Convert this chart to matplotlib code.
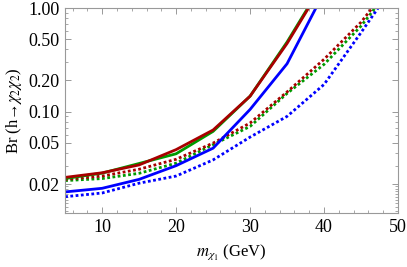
import matplotlib
matplotlib.use("Agg")
import matplotlib.pyplot as plt
from matplotlib.ticker import FixedLocator, NullFormatter, MultipleLocator

plt.rcParams['font.family'] = ['Liberation Serif', 'DejaVu Serif']
plt.rcParams['mathtext.fontset'] = 'stix'

# Data
x_solid_red = [5, 10, 15, 20, 25, 30, 35, 37.9]
y_solid_red = [0.0232, 0.0257, 0.0306, 0.0430, 0.0665, 0.141, 0.455, 1.0]
x_solid_green = [5, 10, 15, 20, 25, 30, 35, 37.8]
y_solid_green = [0.0226, 0.0255, 0.0316, 0.0392, 0.0645, 0.141, 0.470, 1.0]
x_solid_blue = [5, 10, 15, 20, 25, 30, 35, 38.9]
y_solid_blue = [0.0168, 0.0182, 0.0222, 0.0301, 0.0444, 0.105, 0.290, 1.0]

x_dot_red = [5, 10, 15, 20, 25, 30, 35, 40, 45, 46.5]
y_dot_red = [0.0222, 0.0239, 0.0278, 0.0347, 0.0497, 0.0777, 0.155, 0.320, 0.73, 1.0]
x_dot_green = [5, 10, 15, 20, 25, 30, 35, 40, 45, 46.9]
y_dot_green = [0.0216, 0.0226, 0.0254, 0.0318, 0.0480, 0.0720, 0.150, 0.286, 0.67, 1.0]
x_dot_blue = [5, 10, 15, 20, 25, 30, 35, 40, 45, 47.3]
y_dot_blue = [0.0151, 0.0164, 0.0204, 0.0239, 0.0342, 0.0568, 0.090, 0.183, 0.58, 1.0]

y_ticks = [0.02, 0.05, 0.10, 0.20, 0.50, 1.00]
y_tick_labels = ["0.02", "0.05", "0.10", "0.20", "0.50", "1.00"]
x_ticks = [10, 20, 30, 40, 50]

RED = '#a80000'
GREEN = '#009a00'
BLUE = '#0000ff'

fig = plt.figure(figsize=(4.07, 2.67), dpi=100)
ax = fig.add_axes([0.16, 0.202, 0.818, 0.768])

lw = 2.0
dot = (0, (1.0, 0.9))
ax.plot(x_dot_blue, y_dot_blue, color=BLUE, lw=lw, ls=dot, dash_capstyle='butt')
ax.plot(x_dot_green, y_dot_green, color=GREEN, lw=lw, ls=dot, dash_capstyle='butt')
ax.plot(x_dot_red, y_dot_red, color=RED, lw=lw, ls=dot, dash_capstyle='butt')
ax.plot(x_solid_blue, y_solid_blue, color=BLUE, lw=lw)
ax.plot(x_solid_green, y_solid_green, color=GREEN, lw=lw)
ax.plot(x_solid_red, y_solid_red, color=RED, lw=lw)

ax.set_yscale('log')
ax.set_xlim(5, 50)
ax.set_ylim(0.0105, 1.0)

ax.yaxis.set_major_locator(FixedLocator(y_ticks))
ax.set_yticklabels(y_tick_labels)
minor_y = [0.011, 0.012, 0.013, 0.014, 0.015, 0.016, 0.017, 0.018, 0.019,
           0.03, 0.04, 0.06, 0.07, 0.08, 0.09, 0.3, 0.4, 0.6, 0.7, 0.8, 0.9]
ax.yaxis.set_minor_locator(FixedLocator(minor_y))
ax.yaxis.set_minor_formatter(NullFormatter())
ax.xaxis.set_major_locator(FixedLocator(x_ticks))
ax.xaxis.set_minor_locator(MultipleLocator(2))

for s in ax.spines.values():
    s.set_color('#999999')
    s.set_linewidth(0.8)
ax.tick_params(which='both', direction='in', top=True, right=True, color='#999999',
               labelsize=13, pad=4)
ax.tick_params(which='major', length=4, width=0.7)
ax.tick_params(which='minor', length=2, width=0.6)

ax.set_xlabel(r"$m_{\chi_1}$ (GeV)", fontsize=12, labelpad=5)
ax.set_ylabel("Br (h\u2192" + r"$\chi_2\chi_2$)", fontsize=12, labelpad=3)

fig.savefig("out.png", dpi=100)
